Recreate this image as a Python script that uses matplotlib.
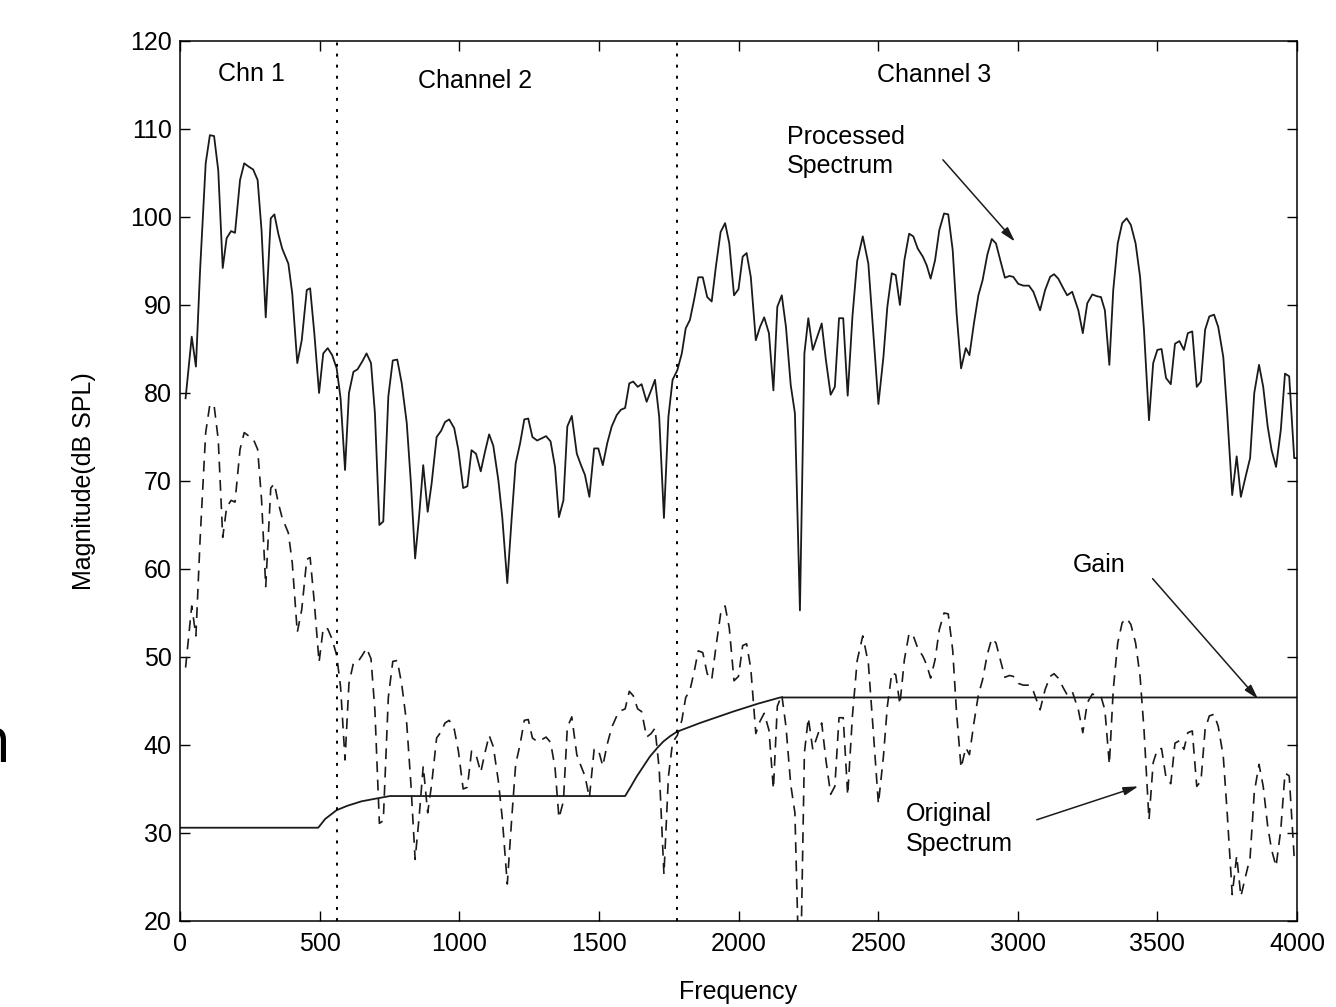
import matplotlib
matplotlib.use("Agg")
import matplotlib.pyplot as plt

# ---------------- data ----------------
freq = [20, 42, 57, 72, 92, 107, 122, 137, 153, 167, 183, 197, 215, 230, 247, 262, 278, 292, 307, 325,
        338, 352, 366, 388, 402, 420, 436, 454, 466, 481, 498, 513, 529, 545, 561, 575, 591, 605, 621, 636,
        653, 668, 684, 698, 714, 728, 746, 762, 778, 794, 812, 827, 842, 856, 871, 887, 901, 919, 935, 949,
        964, 982, 997, 1014, 1029, 1044, 1060, 1077, 1092, 1107, 1122, 1140, 1154, 1172, 1188, 1202, 1218, 1233, 1247, 1262,
        1279, 1295, 1311, 1327, 1343, 1357, 1373, 1387, 1403, 1421, 1436, 1450, 1466, 1483, 1498, 1514, 1530, 1546, 1564, 1579,
        1594, 1609, 1623, 1639, 1653, 1671, 1687, 1701, 1716, 1733, 1749, 1764, 1781, 1797, 1811, 1826, 1841, 1856, 1872, 1888,
        1904, 1919, 1936, 1952, 1967, 1984, 2000, 2015, 2029, 2044, 2062, 2077, 2092, 2109, 2125, 2139, 2155, 2170, 2187, 2202,
        2220, 2236, 2250, 2266, 2282, 2298, 2313, 2330, 2345, 2360, 2375, 2391, 2408, 2425, 2445, 2465, 2483, 2501, 2519, 2533,
        2549, 2563, 2578, 2594, 2611, 2626, 2642, 2660, 2674, 2688, 2704, 2719, 2736, 2751, 2767, 2781, 2797, 2814, 2827, 2843,
        2859, 2874, 2891, 2907, 2922, 2939, 2954, 2970, 2984, 3002, 3020, 3040, 3056, 3080, 3098, 3116, 3130, 3145, 3163, 3177,
        3195, 3217, 3233, 3249, 3267, 3283, 3298, 3312, 3328, 3342, 3358, 3374, 3390, 3405, 3422, 3438, 3452, 3470, 3485, 3500,
        3515, 3531, 3548, 3563, 3579, 3595, 3609, 3625, 3641, 3656, 3671, 3686, 3703, 3718, 3736, 3750, 3768, 3784, 3799, 3816,
        3832, 3847, 3864, 3879, 3895, 3909, 3925, 3942, 3957, 3972, 3990, 4000]

processed = [79.4, 86.4, 83.0, 94.0, 106.1, 109.3, 109.2, 105.3, 94.2, 97.6, 98.4, 98.2, 104.2, 106.1, 105.7, 105.4, 104.2, 98.5, 88.6, 99.85,
             100.3, 98.1, 96.4, 94.7, 91.3, 83.4, 86.0, 91.7, 91.9, 86.8, 80.0, 84.5, 85.1, 84.3, 82.8, 79.4, 71.25, 80.0, 82.4, 82.7,
             83.6, 84.5, 83.4, 77.7, 65.0, 65.4, 79.6, 83.7, 83.8, 81.1, 76.6, 69.7, 61.2, 65.9, 71.8, 66.5, 69.7, 75.0, 75.7, 76.7,
             77.0, 76.0, 73.5, 69.2, 69.4, 73.5, 73.1, 71.1, 73.3, 75.3, 74.0, 70.1, 65.9, 58.4, 65.9, 72.0, 74.3, 77.0, 77.1, 75.0,
             74.6, 74.85, 75.1, 74.5, 71.6, 65.9, 67.8, 76.2, 77.4, 73.1, 71.8, 70.7, 68.2, 73.7, 73.7, 71.8, 74.3, 76.2, 77.5, 78.1,
             78.3, 81.1, 81.3, 80.7, 81.0, 79.0, 80.3, 81.5, 77.3, 65.8, 77.3, 81.5, 82.6, 84.5, 87.35, 88.3, 90.6, 93.15, 93.15, 90.9,
             90.4, 94.35, 98.3, 99.3, 97.0, 91.1, 91.8, 95.5, 95.9, 93.2, 86.0, 87.5, 88.6, 86.8, 80.3, 89.8, 91.1, 87.5, 80.9, 77.7,
             55.3, 84.5, 88.5, 84.9, 86.4, 87.9, 83.75, 79.8, 80.7, 88.5, 88.5, 79.7, 88.7, 95.0, 97.8, 94.7, 86.8, 78.75, 84.1, 89.8,
             93.6, 93.4, 90.0, 95.1, 98.1, 97.8, 96.4, 95.5, 94.5, 93.0, 95.1, 98.5, 100.4, 100.3, 96.25, 89.05, 82.8, 85.1, 84.3, 87.9,
             91.1, 92.8, 95.7, 97.5, 97.0, 94.9, 93.1, 93.3, 93.2, 92.4, 92.2, 92.2, 91.5, 89.4, 91.7, 93.2, 93.5, 93.0, 91.9, 91.1,
             91.5, 89.4, 86.8, 90.2, 91.2, 91.0, 90.9, 89.4, 83.2, 91.7, 97.0, 99.3, 99.85, 99.1, 97.0, 93.2, 87.2, 76.9, 83.4, 84.9,
             85.0, 81.7, 81.0, 85.6, 85.9, 84.9, 86.8, 87.0, 80.7, 81.3, 87.2, 88.7, 88.9, 87.5, 84.1, 77.7, 68.4, 72.8, 68.2, 70.5,
             72.6, 80.0, 83.2, 80.7, 76.2, 73.5, 71.6, 75.8, 82.2, 81.9, 72.6, 72.6]

original = [48.8, 55.8, 52.4, 63.4, 75.5, 78.7, 78.6, 74.7, 63.6, 67.0, 67.8, 67.6, 73.6, 75.5, 75.1, 74.8, 73.6, 67.9, 58.0, 69.2,
            69.7, 67.5, 65.8, 64.1, 60.7, 52.8, 55.4, 61.1, 61.3, 56.2, 49.4, 53.3, 53.2, 52.0, 50.2, 46.6, 38.3, 47.0, 49.3, 49.4,
            50.2, 51.0, 49.8, 43.9, 31.1, 31.4, 45.4, 49.5, 49.6, 46.9, 42.4, 35.5, 27.0, 31.7, 37.6, 32.3, 35.5, 40.8, 41.5, 42.5,
            42.8, 41.8, 39.3, 35.0, 35.2, 39.3, 38.9, 36.9, 39.1, 41.1, 39.8, 35.9, 31.7, 24.2, 31.7, 37.8, 40.1, 42.8, 42.9, 40.8,
            40.4, 40.6, 40.9, 40.3, 37.4, 31.7, 33.6, 42.0, 43.2, 38.9, 37.6, 36.5, 34.0, 39.5, 39.5, 37.6, 40.1, 42.0, 43.3, 43.9,
            44.1, 46.1, 45.6, 44.1, 43.8, 40.9, 41.3, 41.9, 37.3, 25.3, 36.4, 40.3, 41.1, 42.8, 45.4, 46.2, 48.3, 50.7, 50.5, 48.1,
            47.4, 51.1, 54.9, 55.8, 53.3, 47.3, 47.8, 51.3, 51.5, 48.7, 41.3, 42.7, 43.6, 41.7, 35.0, 44.4, 45.7, 42.1, 35.5, 32.3,
            9.9, 39.1, 43.1, 39.5, 41.0, 42.5, 38.3, 34.4, 35.3, 43.1, 43.1, 34.3, 43.3, 49.6, 52.4, 49.3, 41.4, 33.3, 38.7, 44.4,
            48.2, 48.0, 44.6, 49.7, 52.7, 52.4, 51.0, 50.1, 49.1, 47.6, 49.7, 53.1, 55.0, 54.9, 50.8, 43.6, 37.4, 39.7, 38.9, 42.5,
            45.7, 47.4, 50.3, 52.1, 51.6, 49.5, 47.7, 47.9, 47.8, 47.0, 46.8, 46.8, 46.1, 44.0, 46.3, 47.8, 48.1, 47.6, 46.5, 45.7,
            46.1, 44.0, 41.4, 44.8, 45.8, 45.6, 45.5, 44.0, 37.8, 46.3, 51.6, 53.9, 54.4, 53.7, 51.6, 47.8, 41.8, 31.5, 38.0, 39.5,
            39.6, 36.3, 35.6, 40.2, 40.5, 39.5, 41.4, 41.6, 35.3, 35.9, 41.8, 43.3, 43.5, 42.1, 38.7, 32.3, 23.0, 27.4, 22.8, 25.1,
            27.2, 34.6, 37.8, 35.3, 30.8, 28.1, 26.2, 30.4, 36.8, 36.5, 27.2, 27.2]

gain_freq = [0, 495, 520, 561, 600, 650, 700, 752, 1594, 1615, 1635, 1660, 1683, 1710, 1731, 1755, 1779,
             1862, 1981, 2070, 2149, 4000]
gain = [30.6, 30.6, 31.6, 32.6, 33.1, 33.6, 33.9, 34.2, 34.2, 35.3, 36.4, 37.6, 38.7, 39.7, 40.4, 41.0, 41.5,
        42.5, 43.8, 44.7, 45.4, 45.4]

channel_edges = [562, 1780]
channel_labels = ["Chn 1", "Channel 2", "Channel 3"]
x_ticks = [0, 500, 1000, 1500, 2000, 2500, 3000, 3500, 4000]
y_ticks = [20, 30, 40, 50, 60, 70, 80, 90, 100, 110, 120]

# ---------------- figure ----------------
plt.rcParams['font.family'] = ['Liberation Sans', 'DejaVu Sans']
W, H = 1336, 1007
fig = plt.figure(figsize=(W / 100, H / 100), dpi=100)
ax = fig.add_axes([180 / W, 1 - 921 / H, 1117 / W, 880 / H])

ink = '#1a1a1a'
ax.plot(freq, processed, color=ink, lw=1.3, solid_joinstyle='round')
ax.plot(freq, original, color=ink, lw=1.2, linestyle=(0, (6.5, 4.5)))
ax.plot(gain_freq, gain, color=ink, lw=1.3)
for e in channel_edges:
    ax.axvline(e, color='black', lw=1.4, linestyle=(0, (1.5, 4.2)))

ax.set_xlim(0, 4000)
ax.set_ylim(20, 120)
ax.set_xticks(x_ticks)
ax.set_yticks(y_ticks)
ax.tick_params(direction='in', length=7, width=1.0, top=True, right=True,
               labelsize=18, colors='black')
ax.tick_params(axis='x', pad=8)
ax.tick_params(axis='y', pad=6)
for s in ax.spines.values():
    s.set_linewidth(1.1)
    s.set_color('black')

ax.set_xlabel('Frequency', fontsize=18)
ax.set_ylabel('Magnitude(dB SPL)', fontsize=18)
ax.xaxis.set_label_coords(0.5, -0.067)
ax.yaxis.set_label_coords(-0.075, 0.5)

fs = 18
ax.text(136, 116.2, channel_labels[0], fontsize=fs, va='center', ha='left')
ax.text(852, 115.4, channel_labels[1], fontsize=fs, va='center', ha='left')
ax.text(2496, 116.1, channel_labels[2], fontsize=fs, va='center', ha='left')
ax.text(2174, 107.4, 'Processed\nSpectrum', fontsize=fs, va='center', ha='left', linespacing=1.27)
ax.text(3198, 60.45, 'Gain', fontsize=fs, va='center', ha='left')
ax.text(2600, 30.45, 'Original\nSpectrum', fontsize=fs, va='center', ha='left', linespacing=1.27)

arrow = dict(arrowstyle='-|>,head_length=0.9,head_width=0.25', color=ink, lw=1.1, shrinkA=0, shrinkB=0)
ax.annotate('', xy=(2990, 97.2), xytext=(2732, 106.5), arrowprops=arrow)
ax.annotate('', xy=(3861, 45.2), xytext=(3483, 58.9), arrowprops=arrow)
ax.annotate('', xy=(3432, 35.3), xytext=(3068, 31.5), arrowprops=arrow)

# cut-off glyph at the left page edge (the reference shows it clipped)
fig.text(11 / W, 1 - 762 / H, 'n', fontsize=46, ha='right', va='baseline', family=['Open Sans', 'DejaVu Sans'])

fig.savefig('out.png', dpi=100)
